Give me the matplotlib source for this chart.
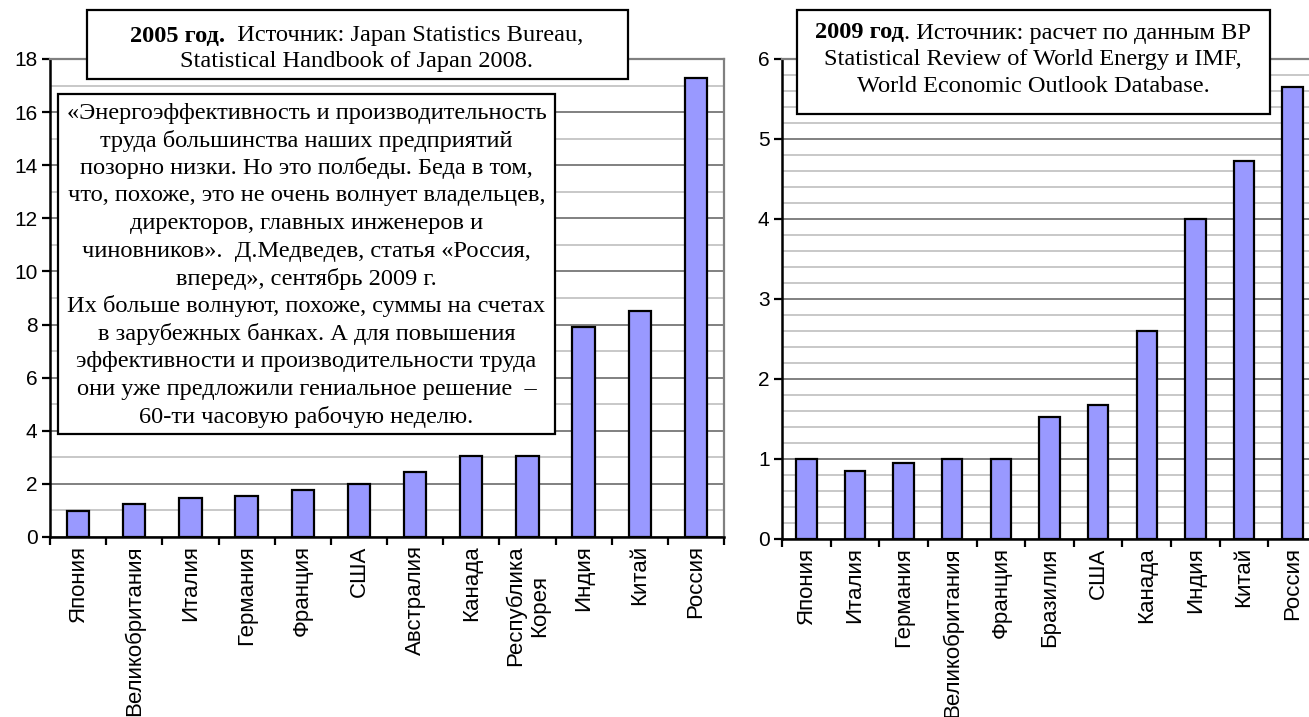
import numpy as np
import matplotlib
matplotlib.use('Agg')
import matplotlib.pyplot as plt
from matplotlib.patches import Rectangle

# data: energy intensity relative to Japan
countries_2005 = ['Япония', 'Великобритания', 'Италия', 'Германия', 'Франция', 'США',
                  'Австралия', 'Канада', 'Республика\nКорея', 'Индия', 'Китай', 'Россия']
values_2005 = [0.97, 1.26, 1.48, 1.56, 1.77, 2.0, 2.44, 3.04, 3.04, 7.9, 8.5, 17.3]

countries_2009 = ['Япония', 'Италия', 'Германия', 'Великобритания', 'Франция', 'Бразилия',
                  'США', 'Канада', 'Индия', 'Китай', 'Россия']
values_2009 = [1.0, 0.85, 0.95, 1.0, 1.0, 1.53, 1.68, 2.6, 4.0, 4.73, 5.65]

quote_lines = [
    '«Энергоэффективность и производительность',
    'труда большинства наших предприятий',
    'позорно низки. Но это полбеды. Беда в том,',
    'что, похоже, это не очень волнует владельцев,',
    'директоров, главных инженеров и',
    'чиновников».  Д.Медведев, статья «Россия,',
    'вперед», сентябрь 2009 г.',
    'Их больше волнуют, похоже, суммы на счетах',
    'в зарубежных банках. А для повышения',
    'эффективности и производительности труда',
    'они уже предложили гениальное решение  –',
    '60-ти часовую рабочую неделю.',
]

W, H = 1309, 717
SANS = 'Liberation Sans'
SERIF = 'Liberation Serif'
BAR = '#9999ff'

fig = plt.figure(figsize=(W / 100, H / 100), dpi=100)


def axrect(l, t, r, b):
    return [l / W, 1 - b / H, (r - l) / W, (b - t) / H]


def fx(x):
    return x / W


def fy(y):
    return 1 - y / H


def draw_chart(ax, labels, vals, ymax, ystep, minor_step, width):
    n = len(vals)
    x = np.arange(n)
    ax.bar(x, vals, width, color=BAR, edgecolor='black', linewidth=1.6, zorder=3)
    ax.set_xlim(-0.5, n - 0.5)
    ax.set_ylim(0, ymax)
    ax.set_yticks(np.arange(0, ymax + 0.001, ystep))
    ax.set_yticks(np.arange(0, ymax + 0.001, minor_step), minor=True)
    ax.yaxis.grid(True, which='minor', color='#c8c8c8', lw=1.4)
    ax.yaxis.grid(True, which='major', color='#808080', lw=1.4)
    ax.set_axisbelow(True)
    ax.set_xticks(x)
    ax.set_xticklabels(labels, rotation=90, va='top', ha='center',
                       fontsize=16, family=SANS)
    ax.set_xticks(np.arange(n + 1) - 0.5, minor=True)
    ax.tick_params(axis='x', which='major', length=0, pad=6)
    ax.tick_params(axis='x', which='minor', length=6, width=1.6, color='black')
    ax.tick_params(axis='y', which='minor', length=0)
    ax.tick_params(axis='y', which='major', length=6, width=1.6, pad=3, labelsize=15)
    for lab in ax.get_yticklabels():
        lab.set_family(SANS)
    for s in ['left', 'bottom']:
        ax.spines[s].set_color('black')
        ax.spines[s].set_linewidth(1.8)
    for s in ['top', 'right']:
        ax.spines[s].set_color('#808080')
        ax.spines[s].set_linewidth(1.6)
    ax.spines['bottom'].set_zorder(4)


ax1 = fig.add_axes(axrect(50, 59, 724, 537))
draw_chart(ax1, countries_2005, values_2005, 18, 2, 1, 0.4)

ax2 = fig.add_axes(axrect(782, 59, 1317, 539))
draw_chart(ax2, countries_2009, values_2009, 6, 1, 0.2, 0.42)


def box(l, t, r, b):
    fig.add_artist(Rectangle((fx(l), fy(b)), (r - l) / W, (b - t) / H,
                             transform=fig.transFigure, facecolor='white',
                             edgecolor='black', linewidth=1.6, zorder=10))


renderer = fig.canvas.get_renderer()


def mixed_line(xc, y, parts, size):
    texts = []
    widths = []
    for s, w in parts:
        t = fig.text(0, fy(y), s, fontsize=size, fontweight=w, family=SERIF,
                     ha='left', va='center', zorder=11)
        texts.append(t)
        widths.append(t.get_window_extent(renderer).width)
    total = sum(widths)
    x0 = xc - total / 2
    for t, wd in zip(texts, widths):
        t.set_x(fx(x0))
        x0 += wd


FS = 17.6

# box 1 (2005)
box(87, 10, 628, 79)
mixed_line(357, 36, [('2005 год.', 'bold'), ('  Источник: Japan Statistics Bureau,', 'normal')], FS)
mixed_line(357, 62, [('Statistical Handbook of Japan 2008.', 'normal')], FS)

# box 2 (quote)
box(58, 94, 555, 434)
for i, line in enumerate(quote_lines):
    fig.text(fx(306.5), fy(113 + i * 27.6), line, fontsize=FS, family=SERIF,
             ha='center', va='center', zorder=11)

# box 3 (2009)
box(797, 10, 1270, 114)
mixed_line(1033, 33, [('2009 год', 'bold'), ('. Источник: расчет по данным BP', 'normal')], FS)
mixed_line(1033, 60, [('Statistical Review of World Energy и IMF,', 'normal')], FS)
mixed_line(1033, 87, [('World Economic Outlook Database.', 'normal')], FS)

fig.savefig('out.png', dpi=100)
